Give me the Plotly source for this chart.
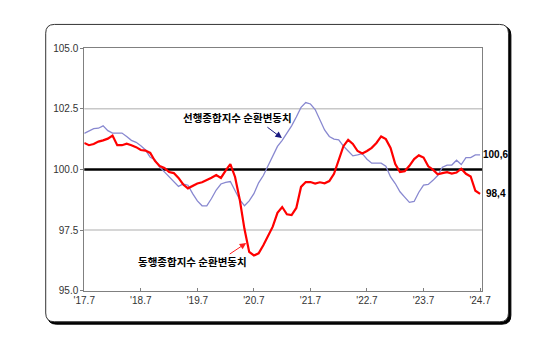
import plotly.graph_objects as go

W, H = 557, 352

# month index 0 = '17.7 ... 84 = '24.7
months = list(range(85))
tick_pos = [0, 12, 24, 36, 48, 60, 72, 84]
tick_labels = ["'17.7", "'18.7", "'19.7", "'20.7", "'21.7", "'22.7", "'23.7", "'24.7"]
y_ticks = [95.0, 97.5, 100.0, 102.5, 105.0]
y_tick_labels = ["95.0", "97.5", "100.0", "102.5", "105.0"]
grid_levels = [97.5, 102.5]

leading = [101.49, 101.59, 101.68, 101.7, 101.8, 101.6, 101.5, 101.5, 101.5, 101.36,
           101.2, 101.12, 100.98, 100.8, 100.5, 100.4, 100.1, 99.9, 99.7, 99.5,
           99.3, 99.4, 99.35, 99.0, 98.7, 98.5, 98.5, 98.8, 99.15, 99.4,
           99.47, 99.5, 99.1, 98.75, 98.5, 98.7, 99.0, 99.45, 99.75, 100.15,
           100.6, 100.95, 101.2, 101.5, 101.8, 102.16, 102.56, 102.76, 102.7, 102.47,
           102.03, 101.63, 101.36, 101.25, 101.22, 100.96, 100.76, 100.56, 100.6, 100.65,
           100.42, 100.26, 100.26, 100.26, 100.13, 99.69, 99.42, 99.08, 98.86, 98.64,
           98.68, 99.06, 99.35, 99.38, 99.55, 99.75, 100.09, 100.18, 100.18, 100.38,
           100.2, 100.49, 100.49, 100.6, 100.6]

coincident = [101.09, 101.0, 101.05, 101.15, 101.2, 101.27, 101.4, 101.0, 101.0, 101.06,
              101.0, 100.92, 100.8, 100.78, 100.68, 100.35, 100.14, 100.06, 99.89, 99.85,
              99.65, 99.38, 99.22, 99.33, 99.42, 99.47, 99.55, 99.66, 99.77, 99.65,
              99.95, 100.22, 99.69, 98.75, 97.54, 96.6, 96.45, 96.54, 96.87, 97.25,
              97.64, 98.21, 98.45, 98.15, 98.12, 98.41, 99.28, 99.48, 99.48, 99.42,
              99.47, 99.43, 99.52, 99.82, 100.42, 100.96, 101.22, 101.05, 100.76, 100.66,
              100.76, 100.89, 101.09, 101.36, 101.25, 100.89, 100.22, 99.89, 99.93, 100.15,
              100.43, 100.58, 100.49, 100.13, 99.99, 99.8, 99.85, 99.89, 99.83, 99.87,
              100.03, 99.82, 99.71, 99.12, 98.99]

leading_name = "선행종합지수 순환변동치"
coincident_name = "동행종합지수 순환변동치"
leading_last_label = "100,6"
coincident_last_label = "98,4"


def px(x):
    return x / W


def py(y):
    return (H - y) / H


fig = go.Figure()
fig.add_trace(go.Scatter(x=months, y=leading, mode="lines", name=leading_name,
                         line=dict(color="#8888D0", width=1.3), showlegend=False))
fig.add_trace(go.Scatter(x=months, y=coincident, mode="lines", name=coincident_name,
                         line=dict(color="#FF0000", width=2.2), showlegend=False))


def rounded_rect(x0, y0, x1, y1, r):
    rx, ry = r / W, r / H
    X0, X1 = px(x0), px(x1)
    Y0, Y1 = py(y0), py(y1)  # Y0 top, Y1 bottom
    return (f"M {X0+rx},{Y0} L {X1-rx},{Y0} Q {X1},{Y0} {X1},{Y0-ry} "
            f"L {X1},{Y1+ry} Q {X1},{Y1} {X1-rx},{Y1} L {X0+rx},{Y1} "
            f"Q {X0},{Y1} {X0},{Y1+ry} L {X0},{Y0-ry} Q {X0},{Y0} {X0+rx},{Y0} Z")


shapes = [
    dict(type="path", xref="paper", yref="paper", layer="below",
         path=rounded_rect(38, 22, 518.5, 328.5, 9),
         fillcolor="black", line=dict(color="black", width=1)),
    dict(type="path", xref="paper", yref="paper", layer="below",
         path=rounded_rect(36, 20, 516, 326, 9),
         fillcolor="white", line=dict(color="#333333", width=1)),
]
for g in grid_levels:
    shapes.append(dict(type="line", xref="x domain", yref="y", layer="below",
                       x0=0, x1=1, y0=g, y1=g, line=dict(color="#C8C8C8", width=1.5)))
shapes.append(dict(type="line", xref="x domain", yref="y", layer="below",
                   x0=0, x1=1, y0=100, y1=100, line=dict(color="black", width=2.6)))
fig.update_layout(shapes=shapes)

ann_font = dict(family="Noto Sans CJK KR", size=10.5, color="black")
fig.add_annotation(x=px(235), y=py(116), xref="paper", yref="paper",
                   xanchor="center", yanchor="middle",
                   text=f"<b>{leading_name}</b>", showarrow=False, font=ann_font)
fig.add_annotation(x=px(188), y=py(264), xref="paper", yref="paper",
                   xanchor="center", yanchor="middle",
                   text=f"<b>{coincident_name}</b>", showarrow=False, font=ann_font)
fig.add_annotation(x=px(281), y=py(137), ax=-16, ay=-12,
                   xref="paper", yref="paper", axref="pixel", ayref="pixel",
                   text="", showarrow=True, arrowhead=2, arrowsize=1.3, arrowwidth=1,
                   arrowcolor="#1A1A80")
fig.add_annotation(x=px(244), y=py(245), ax=-18, ay=12,
                   xref="paper", yref="paper", axref="pixel", ayref="pixel",
                   text="", showarrow=True, arrowhead=2, arrowsize=1.3, arrowwidth=1,
                   arrowcolor="#FF2020")
val_font = dict(family="Liberation Sans", size=10, color="black")
fig.add_annotation(x=px(503), y=py(154), xref="paper", yref="paper",
                   xanchor="center", yanchor="middle",
                   text=f"<b>{leading_last_label}</b>", showarrow=False, font=val_font)
fig.add_annotation(x=px(503), y=py(194), xref="paper", yref="paper",
                   xanchor="center", yanchor="middle",
                   text=f"<b>{coincident_last_label}</b>", showarrow=False, font=val_font)

fig.update_xaxes(domain=[px(76), px(489)], range=[0, 84.5],
                 tickvals=tick_pos, ticktext=tick_labels,
                 ticks="inside", ticklen=3, tickcolor="#808080",
                 showline=True, linecolor="#808080", linewidth=1, mirror=True,
                 showgrid=False, zeroline=False,
                 tickfont=dict(family="Liberation Sans", size=10, color="#333333"))
fig.update_yaxes(domain=[py(294), py(44.5)], range=[95, 105],
                 tickvals=y_ticks, ticktext=y_tick_labels,
                 ticks="outside", ticklen=3, tickcolor="#808080",
                 showline=True, linecolor="#808080", linewidth=1, mirror=True,
                 showgrid=False, zeroline=False,
                 tickfont=dict(family="Liberation Sans", size=10, color="#333333"))

fig.update_layout(width=W, height=H, margin=dict(l=0, r=0, t=0, b=0),
                  paper_bgcolor="white", plot_bgcolor="rgba(0,0,0,0)",
                  showlegend=False)

fig.write_html("out.html")
